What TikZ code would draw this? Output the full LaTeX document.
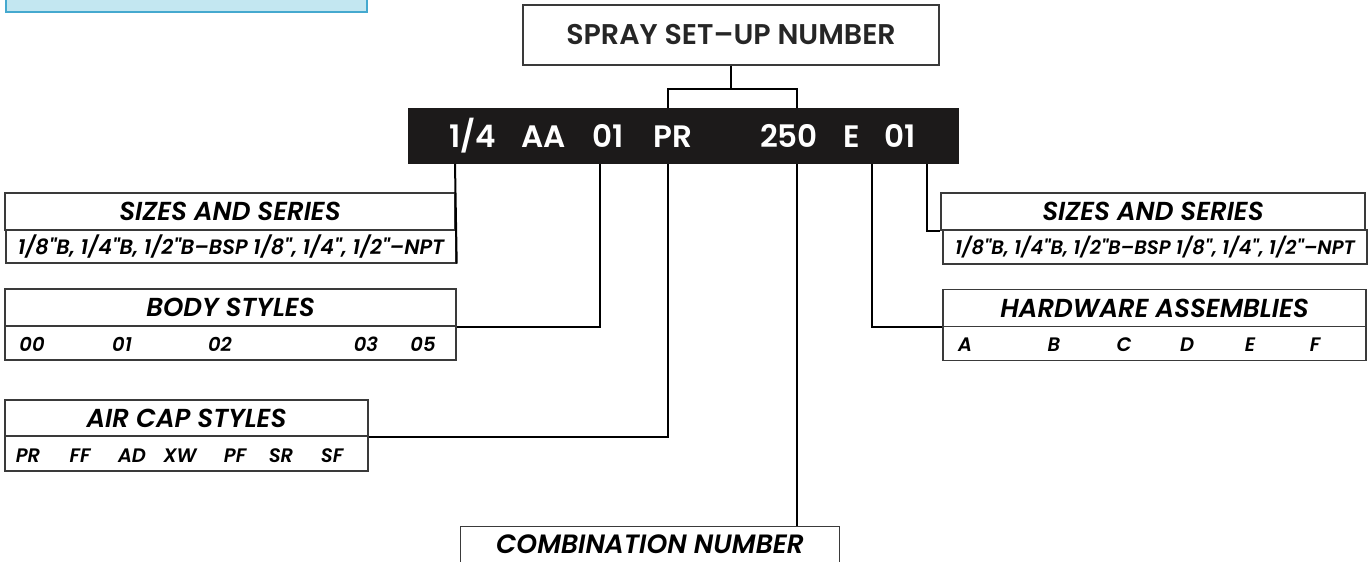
\documentclass[tikz,border=0pt]{standalone}
\usepackage{fontspec}
\newfontfamily\gothic{Poppins}[BoldFont={Poppins SemiBold}, BoldItalicFont={Poppins SemiBold Italic}]
\definecolor{capfill}{HTML}{C3E7F1}
\definecolor{capedge}{HTML}{45A9CF}
\definecolor{boxgray}{HTML}{3A3A3A}
\definecolor{barblack}{HTML}{1C1A1A}
\begin{document}
\begin{tikzpicture}[x=1pt, y=-1pt,
        hd/.style={rectangle, draw=boxgray, line width=1.4pt, inner sep=0pt,
                   font=\gothic\bfseries\itshape\fontsize{26}{26}\selectfont},
        rw/.style={rectangle, draw=boxgray, line width=1.4pt, inner sep=0pt,
                   font=\gothic\bfseries\itshape\fontsize{19.5}{19.5}\selectfont},
        itm/.style={anchor=base, inner sep=0pt, font=\gothic\bfseries\itshape\fontsize{19.5}{19.5}\selectfont},
        code/.style={anchor=base, inner sep=0pt, text=white, font=\gothic\bfseries\fontsize{31}{31}\selectfont},
        link/.style={draw=black, line width=2pt}
    ]
        \useasboundingbox (0,0) rectangle (1368,562);
        \draw[fill=capfill, draw=capedge, line width=2pt] (6,-10) rectangle (367,12);
        % title and code bar
        \node[rectangle, draw=boxgray, line width=1.4pt, minimum width=416pt, minimum height=60pt,
              font=\gothic\bfseries\fontsize{28.5}{28.5}\selectfont, text=black!85] (top) at (731,35) {SPRAY SET–UP NUMBER};
        \node[rectangle, fill=barblack, minimum width=551pt, minimum height=56pt, inner sep=0pt] (bar) at (683.5,136) {};
        \node[code] (csize) at (472.5,147) {1/4};
        \node[code] (cseries)at (543.5,147) {AA};
        \node[code] (cbody) at (608.5,147) {01};
        \node[code] (ccap)  at (673,147)   {PR};
        \node[code] (ccomb) at (789,147)   {250};
        \node[code] (chw)   at (852,147)   {E};
        \node[code] (cser)  at (900.5,147) {01};
        % left boxes
        \node[hd, minimum width=450pt, minimum height=37pt] (sizeL) at (230,211.5) {SIZES AND SERIES};
        \node[rw, minimum width=450pt, minimum height=33pt, font=\gothic\bfseries\itshape\fontsize{20.8}{20.8}\selectfont]
              (sizeLrow) at (231,246.5) {1/8"B, 1/4"B, 1/2"B–BSP 1/8", 1/4", 1/2"–NPT};
        \node[hd, minimum width=451pt, minimum height=37pt] (body) at (230.5,307.5) {BODY STYLES};
        \node[rw, minimum width=451pt, minimum height=34pt] (bodyrow) at (230.5,343) {};
        \foreach \t/\x in {00/32, 01/122, 02/220, 03/366, 05/423}
            \node[itm] (b\t) at (\x,351) {\t};
        \node[hd, minimum width=363pt, minimum height=36pt] (cap) at (186.5,418) {AIR CAP STYLES};
        \node[rw, minimum width=363pt, minimum height=35pt] (caprow) at (186.5,453.5) {};
        \foreach \t/\x in {PR/28, FF/80, AD/132, XW/180, PF/235, SR/281, SF/332}
            \node[itm] (a\t) at (\x,462) {\t};
        % right boxes
        \node[hd, minimum width=424pt, minimum height=37pt] (sizeR) at (1153,211.5) {SIZES AND SERIES};
        \node[rw, minimum width=424pt, minimum height=34pt] (sizeRrow) at (1155,247) {1/8"B, 1/4"B, 1/2"B–BSP 1/8", 1/4", 1/2"–NPT};
        \node[hd, minimum width=423pt, minimum height=37pt] (hw) at (1154.5,308) {HARDWARE ASSEMBLIES};
        \node[rw, minimum width=423pt, minimum height=34pt] (hwrow) at (1154.5,343.5) {};
        \foreach \t/\x in {A/965, B/1054, C/1124, D/1187, E/1250, F/1315}
            \node[itm] (h\t) at (\x,351) {\t};
        % bottom box, open at the page edge
        \node[hd, draw=none, minimum width=378pt, minimum height=35pt, font=\gothic\bfseries\itshape\fontsize{26.5}{26.5}\selectfont]
              (comb) at (650,544.5) {COMBINATION NUMBER};
        \draw[draw=boxgray, line width=1.4pt] ([yshift=-2pt]comb.south west) |- (comb.north east) -- ([yshift=-2pt]comb.south east);
        % connectors
        \coordinate (split) at (731,89);
        \coordinate (jl) at (668,108);
        \coordinate (jr) at (797,108);
        \coordinate (tsize) at (455,164);
        \coordinate (tbody) at (600,164);
        \coordinate (tcap)  at (668,164);
        \coordinate (tcomb) at (797,164);
        \coordinate (thw)   at (872,164);
        \coordinate (tser)  at (927,164);
        \draw[link, line width=1.6pt] (top.south) -- (split);
        \draw[link, line width=1.6pt] (jl) |- (split) -| (jr);
        \draw[link] (tsize) -- (sizeLrow.south east);
        \draw[link] (tbody) |- (body.south east);
        \draw[link] (tcap) |- (cap.south east);
        \draw[link] (tcomb) -- (tcomb |- comb.north);
        \draw[link] (thw) |- (hw.south west);
        \draw[link] (tser) |- (sizeR.south west);
    \end{tikzpicture}
\end{document}
